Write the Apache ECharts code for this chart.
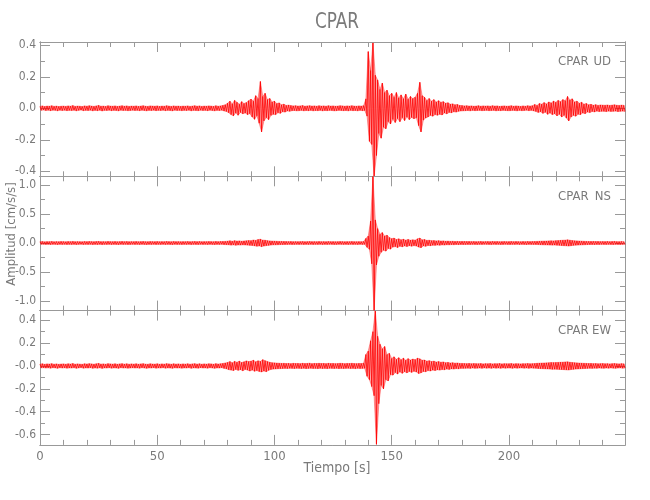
<!DOCTYPE html>
<html>
<head>
<meta charset="utf-8">
<script src="https://cdn.jsdelivr.net/npm/echarts@6/dist/echarts.min.js"></script>
<style>html,body{margin:0;padding:0;background:#fff}#c{width:650px;height:500px}</style>
</head>
<body>
<div id="c"></div>
<script>
// ---------------- DATA (values in thousandths of cm/s/s, one max/min pair per second) ----------------
const station = 'CPAR';
const components = ['UD', 'NS', 'EW'];
const xLabelText = 'Tiempo [s]';
const yLabelText = 'Amplitud [cm/s/s]';

const udHi = [
12,15,11,14,13,16,12,14,11,13, 14,12,15,13,17,12,14,13,11,15, 13,16,14,12,15,18,13,14,12,16,
14,13,15,12,14,16,13,15,12,14, 13,15,12,14,16,13,12,15,14,13, 15,12,14,13,16,14,12,15,13,14,
12,14,13,15,12,14,16,13,15,12, 14,13,15,14,12,16,13,15,18,22, 32,45,28,50,38,26,42,30,36,48,
58,45,80,62,170,75,95,55,62,40, 45,30,34,22,26,18,20,17,15,16, 14,15,17,13,15,16,14,15,13,16,
14,15,13,16,14,15,13,14,16,15, 13,15,14,16,14,13,15,14,16,60, 360,240,415,210,180,120,160,100,115,80,
95,70,100,65,85,60,90,58,75,62, 70,95,165,80,70,50,62,45,55,40, 48,38,42,32,35,26,28,22,24,18,
17,15,16,14,15,13,14,16,13,15, 14,15,13,16,14,15,12,14,15,13, 14,16,13,15,14,12,15,13,16,14,
16,24,18,30,26,36,28,40,34,45, 38,50,42,55,48,75,52,60,40,45, 32,38,26,30,22,25,19,23,18,21,
20,19,21,18,20,22,19,18,20,19];
const udLo = [
-13,-11,-14,-12,-15,-12,-13,-16,-12,-14, -12,-15,-13,-14,-12,-16,-13,-11,-15,-13, -14,-12,-16,-13,-15,-12,-17,-13,-14,-12,
-15,-13,-14,-16,-12,-14,-13,-15,-14,-12, -14,-13,-15,-12,-14,-16,-13,-14,-12,-15, -13,-14,-12,-15,-13,-14,-16,-12,-14,-13,
-15,-13,-14,-12,-16,-13,-14,-15,-12,-14, -13,-15,-12,-14,-16,-13,-14,-12,-17,-20, -28,-40,-48,-30,-44,-26,-35,-30,-40,-34,
-55,-70,-48,-95,-150,-80,-60,-72,-45,-38, -40,-28,-32,-22,-24,-17,-19,-15,-14,-16, -15,-13,-16,-14,-15,-13,-16,-14,-15,-13,
-16,-14,-15,-13,-14,-16,-15,-13,-14,-15, -14,-16,-13,-15,-14,-16,-13,-15,-14,-50, -210,-230,-430,-300,-160,-190,-120,-130,-85,-100,
-70,-90,-65,-85,-60,-78,-55,-72,-58,-66, -60,-110,-150,-75,-62,-55,-45,-50,-40,-44, -38,-42,-30,-35,-26,-28,-22,-24,-19,-17,
-16,-15,-14,-16,-13,-15,-14,-13,-15,-14, -13,-15,-14,-13,-16,-14,-15,-13,-14,-15, -15,-13,-14,-16,-13,-15,-14,-12,-15,-13,
-16,-20,-26,-22,-32,-25,-38,-30,-40,-35, -48,-38,-55,-45,-62,-80,-55,-45,-50,-38, -40,-30,-34,-24,-27,-20,-23,-18,-21,-19,
-19,-21,-18,-20,-19,-18,-21,-19,-18,-20];

const nsHi = [
22,25,20,24,23,26,21,24,22,25, 24,21,25,23,27,22,24,23,21,25, 23,26,24,22,25,27,23,24,22,26,
24,23,25,22,24,26,23,25,22,24, 23,25,22,24,26,23,22,25,24,23, 25,22,24,23,26,24,22,25,23,24,
22,24,23,25,22,24,26,23,25,22, 24,23,25,24,22,26,23,25,27,28, 32,38,30,40,33,36,30,35,38,42,
40,52,45,60,65,50,48,40,36,33, 32,30,28,27,26,25,24,25,23,24, 23,24,25,22,24,25,23,24,22,25,
23,24,22,25,23,24,22,23,25,24, 22,24,23,25,23,22,24,23,25,80, 120,380,1150,400,250,150,180,120,135,95,
75,85,60,72,55,65,50,62,48,55, 50,72,85,55,60,45,48,40,42,36, 40,34,36,30,33,28,30,26,28,25,
27,26,25,26,24,25,23,24,26,23, 24,25,23,26,24,25,22,24,25,23, 24,26,23,25,24,22,25,23,26,24,
25,26,28,30,32,33,34,36,38,36, 40,42,45,48,50,55,48,42,38,36, 34,32,30,28,27,26,27,25,26,24,
25,24,26,23,25,27,24,23,25,24];
const nsLo = [
-23,-21,-24,-22,-25,-22,-23,-26,-22,-24, -22,-25,-23,-24,-22,-26,-23,-21,-25,-23, -24,-22,-26,-23,-25,-22,-27,-23,-24,-22,
-25,-23,-24,-26,-22,-24,-23,-25,-24,-22, -24,-23,-25,-22,-24,-26,-23,-24,-22,-25, -23,-24,-22,-25,-23,-24,-26,-22,-24,-23,
-25,-23,-24,-22,-26,-23,-24,-25,-22,-24, -23,-25,-22,-24,-26,-23,-24,-22,-27,-28, -30,-36,-32,-38,-33,-35,-31,-34,-36,-40,
-42,-48,-55,-50,-62,-52,-45,-40,-35,-31, -31,-29,-27,-26,-25,-24,-23,-25,-24,-23, -24,-22,-25,-23,-24,-22,-25,-23,-24,-22,
-25,-23,-24,-22,-23,-25,-24,-22,-23,-24, -23,-25,-22,-24,-23,-25,-22,-24,-23,-75, -110,-360,-1165,-380,-230,-160,-125,-140,-95,-105,
-70,-62,-78,-55,-65,-50,-60,-46,-55,-45, -52,-70,-80,-50,-56,-42,-46,-38,-40,-35, -38,-32,-35,-29,-31,-27,-29,-25,-27,-24,
-26,-25,-24,-25,-23,-24,-25,-23,-24,-22, -23,-24,-25,-22,-24,-23,-25,-24,-22,-24, -25,-23,-24,-22,-25,-23,-24,-26,-23,-24,
-24,-25,-27,-29,-31,-32,-33,-35,-36,-35, -38,-40,-43,-46,-48,-52,-46,-40,-37,-35, -33,-31,-29,-27,-26,-25,-26,-24,-25,-23,
-24,-25,-23,-24,-26,-23,-24,-25,-23,-24];

const ewHi = [
16,19,14,18,17,20,15,18,14,17, 18,15,19,17,21,15,18,16,14,19, 17,20,18,15,19,22,16,18,15,20,
18,16,19,15,18,20,16,19,15,18, 16,19,15,18,20,16,15,19,17,16, 19,15,18,16,20,18,15,19,16,18,
15,18,16,19,15,18,20,16,19,15, 18,16,19,18,15,20,17,19,22,26, 30,38,28,40,32,42,30,36,44,38,
42,50,36,45,40,55,46,38,32,28, 27,25,24,22,23,21,22,20,23,21, 22,20,23,21,22,24,20,22,21,23,
21,22,20,23,21,22,20,21,23,22, 20,22,21,23,21,20,22,21,23,100, 130,220,300,480,260,190,150,170,100,110,
65,80,58,72,55,68,50,64,52,60, 55,68,62,50,52,42,46,38,42,34, 38,32,35,28,31,26,28,24,26,22,
22,21,20,22,19,21,20,19,21,18, 20,19,21,18,20,19,21,18,20,19, 19,21,18,20,19,18,20,19,21,19,
20,21,23,24,25,26,27,28,30,29, 30,31,32,33,35,36,32,30,28,27, 25,24,23,22,21,22,20,21,19,20,
21,19,20,18,20,21,19,18,20,19];
const ewLo = [
-17,-15,-18,-16,-19,-15,-17,-20,-15,-18, -16,-19,-17,-18,-15,-20,-17,-14,-19,-17, -18,-15,-20,-17,-19,-16,-21,-17,-18,-15,
-19,-17,-18,-20,-15,-18,-17,-19,-18,-16, -18,-17,-19,-15,-18,-20,-17,-18,-15,-19, -17,-18,-15,-19,-17,-18,-20,-16,-18,-17,
-19,-17,-18,-15,-20,-17,-18,-19,-15,-18, -17,-19,-15,-18,-20,-17,-18,-15,-21,-25, -32,-36,-40,-30,-38,-32,-42,-30,-36,-44,
-36,-46,-40,-48,-52,-44,-50,-38,-30,-27, -26,-24,-23,-22,-21,-22,-20,-21,-22,-20, -21,-22,-20,-23,-21,-20,-22,-21,-23,-20,
-22,-21,-23,-20,-21,-22,-20,-23,-21,-22, -21,-20,-22,-21,-23,-20,-22,-21,-20,-90, -120,-180,-260,-685,-330,-170,-200,-120,-130,-75,
-80,-58,-70,-52,-64,-50,-60,-48,-56,-46, -52,-66,-60,-48,-50,-40,-44,-36,-40,-33, -36,-31,-33,-27,-30,-25,-27,-23,-25,-21,
-21,-20,-19,-21,-18,-20,-19,-18,-20,-17, -19,-18,-20,-17,-19,-18,-20,-17,-19,-18, -18,-20,-17,-19,-18,-17,-19,-18,-20,-18,
-19,-20,-22,-23,-24,-25,-26,-27,-29,-28, -29,-30,-31,-32,-34,-35,-31,-29,-27,-26, -24,-23,-22,-21,-20,-21,-19,-20,-18,-19,
-20,-18,-19,-17,-19,-20,-18,-17,-19,-18];

const valueUnit = 0.001;   // stored values are in thousandths
const sampleSeconds = 1;   // one max/min pair per second

// tick values and labels
const xMajorTicks = [0, 50, 100, 150, 200];
const xTickLabels = ['0', '50', '100', '150', '200'];
const xMinorTicks = [10,20,30,40,60,70,80,90,110,120,130,140,160,170,180,190,210,220,230,240];

const udMajorTicks = [-0.4, -0.2, 0, 0.2, 0.4];
const udTickLabels = ['-0.4', '-0.2', '0.0', '0.2', '0.4'];
const udMinorTicks = [-0.3, -0.1, 0.1, 0.3];
const nsMajorTicks = [-1, -0.5, 0, 0.5, 1];
const nsTickLabels = ['-1.0', '-0.5', '0.0', '0.5', '1.0'];
const nsMinorTicks = [-0.75, -0.25, 0.25, 0.75];
const ewMajorTicks = [-0.6, -0.4, -0.2, 0, 0.2, 0.4];
const ewTickLabels = ['-0.6', '-0.4', '-0.2', '-0.0', '0.2', '0.4'];
const ewMinorTicks = [-0.5, -0.3, -0.1, 0.1, 0.3];

// axis extents
const xMax = 249.5;
const udRange = [-0.432, 0.421];
const nsRange = [-1.17, 1.155];
const ewRange = [-0.69, 0.484];

// ---------------- CHART ----------------
const AX = '#999999';
const TXT = '#7a7a7a';
const FONT = '"Liberation Sans Narrow", "DejaVu Sans Condensed", "Noto Sans", sans-serif';

const panels = [
  {hi: udHi, lo: udLo, range: udRange, major: udMajorTicks, labels: udTickLabels, minor: udMinorTicks},
  {hi: nsHi, lo: nsLo, range: nsRange, major: nsMajorTicks, labels: nsTickLabels, minor: nsMinorTicks},
  {hi: ewHi, lo: ewLo, range: ewRange, major: ewMajorTicks, labels: ewTickLabels, minor: ewMinorTicks}
];

const gridTop = 42, gridH = 134.3, gridLeft = 40, gridRight = 25;
const grids = [], xAxes = [], yAxes = [], series = [];

function labelFor(ticks, labels) {
  return function (v) {
    for (let k = 0; k < ticks.length; k++) if (Math.abs(ticks[k] - v) < 1e-9) return labels[k];
    return '';
  };
}

panels.forEach((p, i) => {
  grids.push({left: gridLeft, right: gridRight, top: gridTop + i * gridH, height: gridH, containLabel: false});
  const xBase = {type: 'value', gridIndex: i, min: 0, max: xMax, splitLine: {show: false},
    axisLine: {show: true, onZero: false, lineStyle: {color: AX, width: 1}}};
  const isLast = i === panels.length - 1;
  xAxes.push(Object.assign({}, xBase, {position: 'bottom',
    axisTick: {show: true, inside: true, length: 10, customValues: xMajorTicks, lineStyle: {color: AX}},
    axisLabel: isLast ? {show: true, customValues: xMajorTicks, formatter: labelFor(xMajorTicks, xTickLabels),
      color: TXT, fontFamily: FONT, fontSize: 13, margin: 5} : {show: false}}));
  xAxes.push(Object.assign({}, xBase, {position: 'bottom',
    axisTick: {show: true, inside: true, length: 5, customValues: xMinorTicks, lineStyle: {color: AX}},
    axisLabel: {show: false}}));
  xAxes.push(Object.assign({}, xBase, {position: 'top',
    axisTick: {show: true, inside: true, length: 10, customValues: xMajorTicks, lineStyle: {color: AX}},
    axisLabel: {show: false}}));
  xAxes.push(Object.assign({}, xBase, {position: 'top',
    axisTick: {show: true, inside: true, length: 5, customValues: xMinorTicks, lineStyle: {color: AX}},
    axisLabel: {show: false}}));

  const yBase = {type: 'value', gridIndex: i, min: p.range[0], max: p.range[1], splitLine: {show: false},
    axisLine: {show: true, onZero: false, lineStyle: {color: AX, width: 1}}};
  yAxes.push(Object.assign({}, yBase, {position: 'left',
    axisTick: {show: true, inside: true, length: 10, customValues: p.major, lineStyle: {color: AX}},
    axisLabel: {show: true, customValues: p.major, formatter: labelFor(p.major, p.labels),
      color: TXT, fontFamily: FONT, fontSize: 12, margin: 4}}));
  yAxes.push(Object.assign({}, yBase, {position: 'left',
    axisTick: {show: true, inside: true, length: 5, customValues: p.minor, lineStyle: {color: AX}},
    axisLabel: {show: false}}));
  yAxes.push(Object.assign({}, yBase, {position: 'right',
    axisTick: {show: true, inside: true, length: 10, customValues: p.major, lineStyle: {color: AX}},
    axisLabel: {show: false}}));
  yAxes.push(Object.assign({}, yBase, {position: 'right',
    axisTick: {show: true, inside: true, length: 5, customValues: p.minor, lineStyle: {color: AX}},
    axisLabel: {show: false}}));

  const zig = [], top = [], bot = [];
  for (let k = 0; k < p.hi.length; k++) {
    const t = k * sampleSeconds;
    zig.push([t, p.hi[k] * valueUnit]);
    zig.push([t + sampleSeconds / 2, p.lo[k] * valueUnit]);
    top.push([t, p.hi[k] * valueUnit]);
    bot.push([t + sampleSeconds / 2, p.lo[k] * valueUnit]);
  }
  const common = {type: 'line', xAxisIndex: i * 4, yAxisIndex: i * 4, showSymbol: false, symbol: 'none',
    sampling: null, clip: true, animation: false, silent: true};
  series.push(Object.assign({}, common, {data: top, z: 1,
    lineStyle: {color: 'rgba(255,0,0,0.6)', width: 0.6},
    areaStyle: {color: 'rgba(255,30,30,0.55)', origin: 'auto'}}));
  series.push(Object.assign({}, common, {data: bot, z: 1,
    lineStyle: {color: 'rgba(255,0,0,0.6)', width: 0.6},
    areaStyle: {color: 'rgba(255,30,30,0.55)', origin: 'auto'}}));
  series.push(Object.assign({}, common, {data: zig, z: 2,
    lineStyle: {color: '#ff0000', width: 0.8}}));
});

const graphics = [
  {type: 'text', x: 337, y: 22, scaleX: 0.85, style: {text: station, fontFamily: FONT, fontSize: 22,
    fill: TXT, textAlign: 'center', textVerticalAlign: 'middle'}},
  {type: 'text', x: 337, y: 468, style: {text: xLabelText, fontFamily: FONT, fontSize: 14,
    fill: TXT, textAlign: 'center', textVerticalAlign: 'middle'}},
  {type: 'text', x: 12, y: 234, rotation: Math.PI / 2, style: {text: yLabelText, fontFamily: FONT, fontSize: 13,
    fill: TXT, textAlign: 'center', textVerticalAlign: 'middle'}}
];
components.forEach((c, i) => {
  const y = gridTop + i * gridH + 20;
  graphics.push({type: 'text', x: 558, y: y, style: {text: station, fontFamily: FONT, fontSize: 13,
    fill: TXT, textAlign: 'left', textVerticalAlign: 'middle'}});
  graphics.push({type: 'text', x: 611, y: y, style: {text: c, fontFamily: FONT, fontSize: 13,
    fill: TXT, textAlign: 'right', textVerticalAlign: 'middle'}});
});

const chart = echarts.init(document.getElementById('c'), null, {renderer: 'canvas'});
chart.setOption({
  animation: false,
  backgroundColor: '#ffffff',
  grid: grids,
  xAxis: xAxes,
  yAxis: yAxes,
  series: series,
  graphic: graphics
});
</script>
</body>
</html>
